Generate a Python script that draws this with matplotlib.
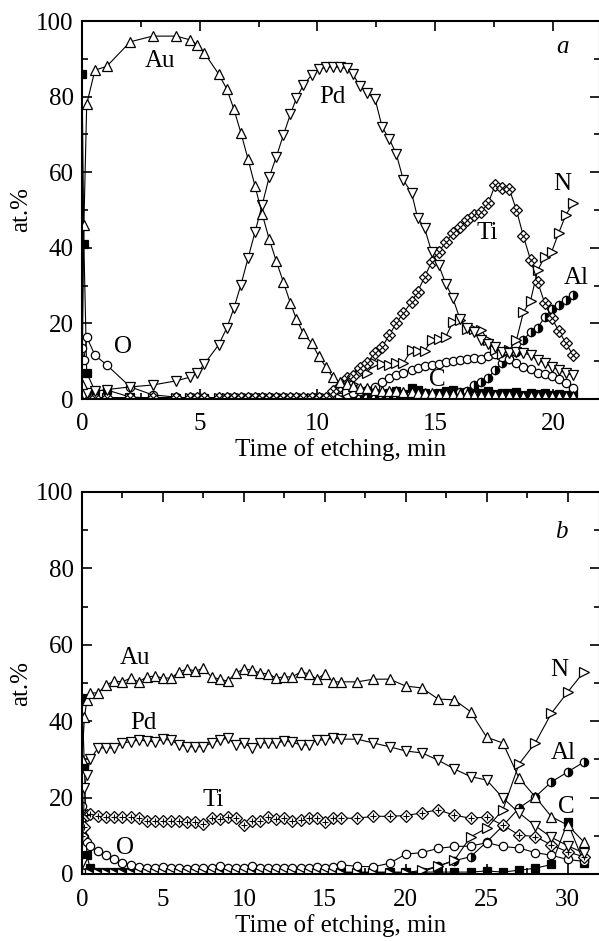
import matplotlib
matplotlib.use("Agg")
import matplotlib.pyplot as plt
from matplotlib.ticker import MultipleLocator

plt.rcParams['font.family'] = ['Liberation Serif', 'DejaVu Serif']
plt.rcParams['mathtext.fontset'] = 'stix'

# ---- panel a: time of etching (min) and at.% of each element ----
t_a = [0, 0.08, 0.2, 0.55, 1.05, 2.05, 3.0, 4.0, 4.6, 4.9,
       5.2, 5.8, 6.15, 6.45, 6.75, 7.05, 7.35, 7.65, 7.95, 8.25,
       8.55, 8.85, 9.1, 9.4, 9.75, 10.05, 10.35, 10.65, 10.95, 11.25,
       11.5, 11.8, 12.1, 12.45, 12.75, 13.05, 13.35, 13.65, 14.0, 14.25,
       14.55, 14.85, 15.15, 15.45, 15.75, 16.05, 16.35, 16.65, 16.95, 17.25,
       17.55, 17.85, 18.15, 18.45, 18.75, 19.05, 19.35, 19.65, 19.95, 20.25,
       20.55, 20.85]

au_a = [4, 46, 78, 87, 88, 94.5, 96, 96, 95, 93.7,
        91.5, 86, 82, 76.7, 70.4, 63.5, 56.3, 49, 42.3, 36.5,
        31, 25.4, 21.2, 17.4, 14.8, 11.4, 8.5, 5.8, 4.5, 4,
        3.5, 3, 2.8, 2.5, 2.2, 2, 2, 1.8, 1.8, 1.6,
        1.5, 1.5, 1.4, 1.3, 1.3, 1.2, 1.2, 1.1, 1.1, 1,
        1, 1, 1, 0.9, 0.9, 0.9, 0.8, 0.8, 0.8, 0.7,
        0.7, 0.7]

pd_a = [0.5, 1, 1.5, 2, 2.5, 3.2, 3.7, 4.8, 5.8, 6.9,
        9.3, 14.3, 18.8, 24, 30.2, 37.2, 44.2, 51.3, 58.7, 64,
        69.8, 75.3, 79.5, 83, 85.7, 87.2, 87.8, 87.9, 87.7, 87.5,
        86, 82.8, 81, 79.3, 71.9, 68.8, 64.8, 57.9, 54.5, 48,
        45.2, 38.9, 35.4, 30.5, 26.7, 21.2, 18.8, 17.7, 15.6, 14.5,
        13.8, 12.4, 12.2, 12.5, 12.2, 11.6, 10.3, 9.5, 8.5, 7.7,
        6.8, 6.3]

o_a = [13.5, 10.3, 16.4, 11.6, 9, 3.2, 1.1, 0.5, 0.3, 0.3,
       0.3, 0.3, 0.3, 0.3, 0.3, 0.3, 0.3, 0.3, 0.3, 0.3,
       0.3, 0.3, 0.3, 0.3, 0.3, 0.3, 0.3, 0.4, 0.5, 1,
       1.5, 2, 2.5, 3.2, 4.5, 5.5, 6.3, 7, 7.7, 8.2,
       8.6, 9, 9.3, 9.7, 10, 10.3, 10.5, 10.8, 10.6, 11.3,
       11.8, 11.2, 10.5, 9.6, 8.5, 7.9, 7, 6.5, 6.2, 5.3,
       4.2, 2.9]

ti_a = [0.3, 0.3, 0.3, 0.3, 0.3, 0.3, 0.3, 0.3, 0.3, 0.3,
        0.3, 0.3, 0.3, 0.3, 0.3, 0.3, 0.3, 0.3, 0.3, 0.3,
        0.3, 0.3, 0.3, 0.3, 0.3, 0.3, 0.3, 2, 3.5, 5.6,
        6, 8.2, 9.5, 12.2, 13.8, 16.9, 20.1, 22.8, 25.7, 28.3,
        32.3, 36.3, 38.9, 41.5, 43.9, 45.5, 47.4, 48.7, 49.5, 51.8,
        56.6, 55.8, 55.5, 50, 43, 36.8, 31, 25.4, 21.4, 18,
        14.8, 11.6]

n_a = [0.3, 0.3, 0.3, 0.3, 0.3, 0.3, 0.3, 0.3, 0.3, 0.3,
       0.3, 0.3, 0.3, 0.3, 0.3, 0.3, 0.3, 0.3, 0.3, 0.3,
       0.3, 0.3, 0.3, 0.3, 0.3, 0.3, 0.3, 0.3, 0.3, 2,
       4, 7, 7, 9.5, 9.2, 9, 9.5, 9.5, 13, 12.7,
       12.7, 15.6, 15.9, 16.4, 20.4, 20.9, 18.5, 18.5, 18.3, 15.5,
       13, 12, 13, 15.6, 23, 26, 34, 37.6, 39, 44,
       48.7, 51.8]

al_a = [0.3, 0.3, 0.3, 0.3, 0.3, 0.3, 0.3, 0.3, 0.3, 0.3,
        0.3, 0.3, 0.3, 0.3, 0.3, 0.3, 0.3, 0.3, 0.3, 0.3,
        0.3, 0.3, 0.3, 0.3, 0.3, 0.3, 0.3, 0.3, 0.3, 0.3,
        0.3, 0.3, 0.3, 0.3, 0.3, 0.3, 0.3, 0.3, 0.3, 0.3,
        0.3, 0.3, 0.3, 0.3, 0.3, 1.9, 2.2, 3.7, 4.6, 5.6,
        7.7, 9.5, 10.7, 12.4, 15.6, 17.8, 18.8, 21.7, 23.7, 24.9,
        26.2, 27.5]

c_a = [86, 41, 7, 2.1, 2.4, 0.5, 0.3, 0.3, 0.3, 0.3,
       0.3, 0.3, 0.3, 0.3, 0.3, 0.3, 0.3, 0.3, 0.3, 0.3,
       0.3, 0.3, 0.3, 0.3, 0.3, 0.3, 0.3, 0.3, 0.3, 0.3,
       0.3, 0.3, 0.3, 0.3, 1, 1.5, 2, 1.2, 3, 2.5,
       1.5, 1, 1.5, 2, 2.5, 1.5, 1.8, 2.8, 1.5, 2,
       1.2, 1.5, 1.5, 1.8, 1, 1.5, 1.2, 1.5, 1, 1.2,
       1, 1.5]

# ---- panel b ----
t_b = [0, 0.15, 0.3, 0.5, 1.0, 1.5, 2.0, 2.5, 3.0, 3.5,
       4.0, 4.5, 5.0, 5.5, 6.0, 6.5, 7.0, 7.5, 8.0, 8.5,
       9.0, 9.5, 10.0, 10.5, 11.0, 11.5, 12.0, 12.5, 13.0, 13.5,
       14.0, 14.5, 15.0, 15.5, 16.0, 17, 18, 19, 20, 21,
       22, 23, 24, 25, 26, 27, 28, 29, 30, 31]

au_b = [30, 41, 45.5, 47.4, 47.4, 49.5, 50.5, 50.3, 51.3, 50.3,
        51.6, 51.8, 51.3, 51.3, 52.9, 53.7, 53.1, 53.9, 51.6, 51,
        50.5, 52.6, 53.7, 53.4, 52.6, 52.4, 51.3, 51.6, 51.6, 52.9,
        52.4, 51, 52.4, 50.3, 50.3, 50.3, 51, 51, 49.2, 48.7,
        45.8, 45.6, 42.5, 35.8, 34.3, 25.1, 20.2, 15, 12.8, 8.4]

pd_b = [3, 22.5, 26, 30, 33, 33, 33, 34.3, 34.6, 35.1,
        34.8, 34.6, 35.3, 35, 33.8, 33.3, 33.3, 33.3, 34.3, 35,
        35.6, 33.8, 34.3, 33, 34.3, 34.3, 34.3, 34.8, 34.5, 33.8,
        33.8, 35.1, 35.1, 35.6, 35.3, 35.3, 34.3, 33.3, 32.2, 31.7,
        29.8, 27.5, 25.5, 24.6, 19.9, 16, 12.6, 9.6, 7.4, 5.5]

ti_b = [10, 12.3, 15.4, 15.7, 15.2, 15, 14.9, 14.9, 14.9, 14.6,
        14, 13.8, 14, 13.8, 14, 13.5, 13.5, 13.1, 14.6, 14.4,
        14.9, 14.6, 12.9, 13.8, 14, 15, 14.4, 14.6, 13.8, 14.2,
        14.6, 14.6, 13.7, 14.6, 14.6, 14.6, 15.1, 15.1, 15.3, 16,
        16.8, 15.4, 14.6, 14.9, 12.8, 10.2, 9.8, 7.6, 5.8, 4.5]

o_b = [17.8, 9.7, 8.4, 7.2, 6.1, 5, 3.9, 3, 2.4, 1.9,
       1.6, 1.5, 1.8, 1.5, 1.5, 1.4, 1.5, 1.5, 1.6, 2.2,
       1.6, 1.5, 1.6, 2, 1.6, 1.5, 1.5, 1.6, 1.5, 1.5,
       1.6, 1.8, 1.6, 1.8, 2.4, 2, 1.9, 2.8, 5.2, 5.6,
       6.7, 7.2, 7.3, 8.2, 7.2, 6.8, 5.6, 4.9, 3.8, 3.3]

n_b = [0.3, 0.3, 0.3, 0.3, 0.3, 0.3, 0.3, 0.3, 0.3, 0.3,
       0.3, 0.3, 0.3, 0.3, 0.3, 0.3, 0.3, 0.3, 0.3, 0.3,
       0.3, 0.3, 0.3, 0.3, 0.3, 0.3, 0.3, 0.3, 0.3, 0.3,
       0.3, 0.3, 0.3, 0.3, 0.3, 0.3, 0.3, 0.3, 0.3, 1,
       2, 3.6, 9.7, 12, 16.8, 28.8, 34.3, 42.1, 47.6, 52.9]

al_b = [0.3, 0.3, 0.3, 0.3, 0.3, 0.3, 0.3, 0.3, 0.3, 0.3,
        0.3, 0.3, 0.3, 0.3, 0.3, 0.3, 0.3, 0.3, 0.3, 0.3,
        0.3, 0.3, 0.3, 0.3, 0.3, 0.3, 0.3, 0.3, 0.3, 0.3,
        0.3, 0.3, 0.3, 0.3, 0.3, 0.3, 0.3, 0.3, 0.3, 0.5,
        2.1, 3.5, 4.5, 8.4, 12.6, 17.3, 20.2, 24.1, 26.7, 29.3]

c_b = [46, 28, 5, 1.5, 0.5, 0.5, 0.5, 0.5, 0.5, 0.5,
       0.5, 0.5, 0.5, 0.5, 0.5, 0.5, 0.5, 0.5, 0.5, 0.5,
       0.5, 0.5, 0.5, 0.5, 0.5, 0.5, 0.5, 0.5, 0.5, 0.5,
       0.5, 0.5, 0.5, 0.5, 0.5, 0.5, 0.5, 0.5, 0.5, 0.5,
       0.5, 0.5, 0.5, 0.8, 0.5, 1, 1.5, 2.5, 13.5, 3]

FS = 18


def plot_series(ax, t, vals, marker, ms, fill='white', cross=None):
    """Uma série: linha fina preta com marcadores."""
    kw = dict(color='k', lw=0.8, marker=marker, ms=ms, mec='k', mew=0.9)
    if fill == 'half':
        ax.plot(t, vals, mfc='k', mfcalt='white', fillstyle='right', **kw)
    else:
        ax.plot(t, vals, mfc=fill, **kw)
    if cross:
        ax.plot(t, vals, ls='none', marker=cross, ms=ms - 1.5, mec='k', mew=0.8)


def style_axis(ax, xmax, xmajor, xpad):
    ax.set_xlim(0, xmax)
    ax.set_ylim(0, 100)
    ax.xaxis.set_major_locator(MultipleLocator(xmajor))
    ax.xaxis.set_minor_locator(MultipleLocator(xmajor / 2))
    ax.yaxis.set_major_locator(MultipleLocator(20))
    ax.yaxis.set_minor_locator(MultipleLocator(10))
    ax.tick_params(which='both', direction='in', top=True, right=True,
                   labelsize=FS, width=1.2)
    ax.tick_params(which='major', length=7)
    ax.tick_params(which='minor', length=4)
    ax.tick_params(axis='x', pad=xpad)
    ax.tick_params(axis='y', pad=6)
    for s in ax.spines.values():
        s.set_linewidth(1.5)
    ax.set_xlabel("Time of etching, min", fontsize=FS, labelpad=2)
    ax.set_ylabel("at.%", fontsize=FS, labelpad=3)


def label(ax, x, y, s, **kw):
    ax.text(x, y, s, fontsize=FS, ha='center', va='center', **kw)


fig = plt.figure(figsize=(5.99, 9.41), dpi=100)
ax1 = fig.add_axes([82 / 599, 1 - 399 / 941, 518 / 599, 378 / 941])
ax2 = fig.add_axes([82 / 599, 1 - 874 / 941, 518 / 599, 382 / 941])

# painel a
plot_series(ax1, t_a, c_a, 's', 5.5, fill='k')
plot_series(ax1, t_a, al_a, 'o', 6, fill='half')
plot_series(ax1, t_a, o_a, 'o', 6)
plot_series(ax1, t_a, n_a, '>', 7)
plot_series(ax1, t_a, ti_a, 'D', 6, cross='x')
plot_series(ax1, t_a, pd_a, 'v', 7)
plot_series(ax1, t_a, au_a, '^', 7)
style_axis(ax1, 22, 5, xpad=10)

label(ax1, 3.3, 89.5, "Au")
label(ax1, 10.65, 80, "Pd")
label(ax1, 17.2, 44, "Ti")
label(ax1, 20.4, 57, "N")
label(ax1, 21.0, 32, "Al")
label(ax1, 15.1, 5, "C")
label(ax1, 1.75, 13.8, "O")
label(ax1, 20.4, 93, "a", style='italic')

# painel b
plot_series(ax2, t_b, c_b, 's', 5.5, fill='k')
plot_series(ax2, t_b, al_b, 'o', 6, fill='half')
plot_series(ax2, t_b, o_b, 'o', 6)
plot_series(ax2, t_b, n_b, '>', 7)
plot_series(ax2, t_b, ti_b, 'D', 6, cross='+')
plot_series(ax2, t_b, pd_b, 'v', 7)
plot_series(ax2, t_b, au_b, '^', 7)
style_axis(ax2, 32, 5, xpad=11)

label(ax2, 3.3, 56.5, "Au")
label(ax2, 3.8, 39.5, "Pd")
label(ax2, 8.1, 19.4, "Ti")
label(ax2, 2.65, 6.8, "O")
label(ax2, 29.5, 53.4, "N")
label(ax2, 29.7, 31.7, "Al")
label(ax2, 29.9, 17.5, "C")
label(ax2, 29.6, 89.5, "b", style='italic')

fig.savefig("out.png", dpi=100)
